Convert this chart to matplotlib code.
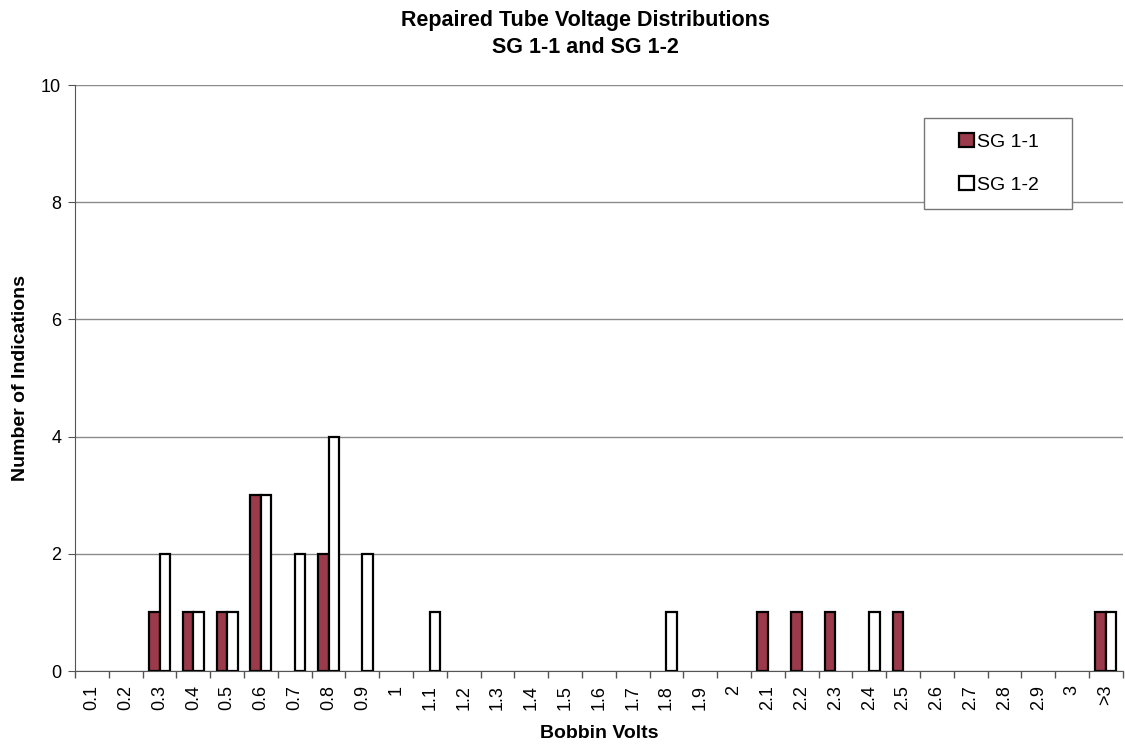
import matplotlib
matplotlib.use("Agg")
import matplotlib.pyplot as plt
import numpy as np
from matplotlib.ticker import FixedLocator, NullFormatter
from matplotlib.patches import Rectangle

plt.rcParams['font.family'] = ['Liberation Sans', 'DejaVu Sans']

categories = ["0.1", "0.2", "0.3", "0.4", "0.5", "0.6", "0.7", "0.8", "0.9", "1",
              "1.1", "1.2", "1.3", "1.4", "1.5", "1.6", "1.7", "1.8", "1.9", "2",
              "2.1", "2.2", "2.3", "2.4", "2.5", "2.6", "2.7", "2.8", "2.9", "3", ">3"]
sg11 = [0, 0, 1, 1, 1, 3, 0, 2, 0, 0,
        0, 0, 0, 0, 0, 0, 0, 0, 0, 0,
        1, 1, 1, 0, 1, 0, 0, 0, 0, 0, 1]
sg12 = [0, 0, 2, 1, 1, 3, 2, 4, 2, 0,
        1, 0, 0, 0, 0, 0, 0, 1, 0, 0,
        0, 0, 0, 1, 0, 0, 0, 0, 0, 0, 1]
yticks = [0, 2, 4, 6, 8, 10]

fig = plt.figure(figsize=(11.25, 7.46), dpi=100)
ax = fig.add_axes([0.0667, 0.1005, 0.9313, 0.7855])

x = np.arange(len(categories))
w = 0.31
a11 = np.array(sg11)
a12 = np.array(sg12)
m11 = a11 > 0
m12 = a12 > 0
ax.bar(x[m11] - w / 2, a11[m11], width=w, color='#9B3A4A', edgecolor='black',
       linewidth=1.6, label='SG 1-1', zorder=3)
ax.bar(x[m12] + w / 2, a12[m12], width=w, color='white', edgecolor='black',
       linewidth=1.6, label='SG 1-2', zorder=3)

ax.set_xlim(-0.5, len(categories) - 0.5)
ax.set_ylim(0, 10)
ax.set_yticks(yticks)
ax.yaxis.grid(True, color='#8a8a8a', linewidth=1.0, zorder=0)
ax.set_axisbelow(True)

ax.set_xticks(x)
ax.set_xticklabels(categories, rotation=90, fontsize=13)
ax.tick_params(axis='x', length=0, pad=10)
ax.xaxis.set_minor_locator(FixedLocator(np.arange(-0.5, len(categories), 1.0)))
ax.xaxis.set_minor_formatter(NullFormatter())
ax.tick_params(axis='x', which='minor', length=5, color='#555555', width=1)
ax.tick_params(axis='y', labelsize=13, length=5, color='#555555', pad=5)

for s in ['top', 'right']:
    ax.spines[s].set_visible(False)
ax.spines['left'].set_color('#555555')
ax.spines['bottom'].set_color('#555555')

ax.set_xlabel('Bobbin Volts', fontsize=14, fontweight='bold', labelpad=11)
ax.set_ylabel('Number of Indications', fontsize=14, fontweight='bold', labelpad=9)
fig.suptitle('Repaired Tube Voltage Distributions\nSG 1-1 and SG 1-2', fontsize=15.5,
             fontweight='bold', x=0.52, y=0.987, linespacing=1.42)

ax.add_patch(Rectangle((0.810, 0.788), 0.142, 0.156, transform=ax.transAxes,
                       facecolor='white', edgecolor='#777777', linewidth=1.0, zorder=4))
leg = ax.legend(loc='center', bbox_to_anchor=(0.882, 0.866), fontsize=14,
                handlelength=0.75, handleheight=0.75, handletextpad=0.2,
                labelspacing=1.3, borderpad=0.2, frameon=False, borderaxespad=0)
leg.set_zorder(5)

fig.savefig('out.png', dpi=100)
